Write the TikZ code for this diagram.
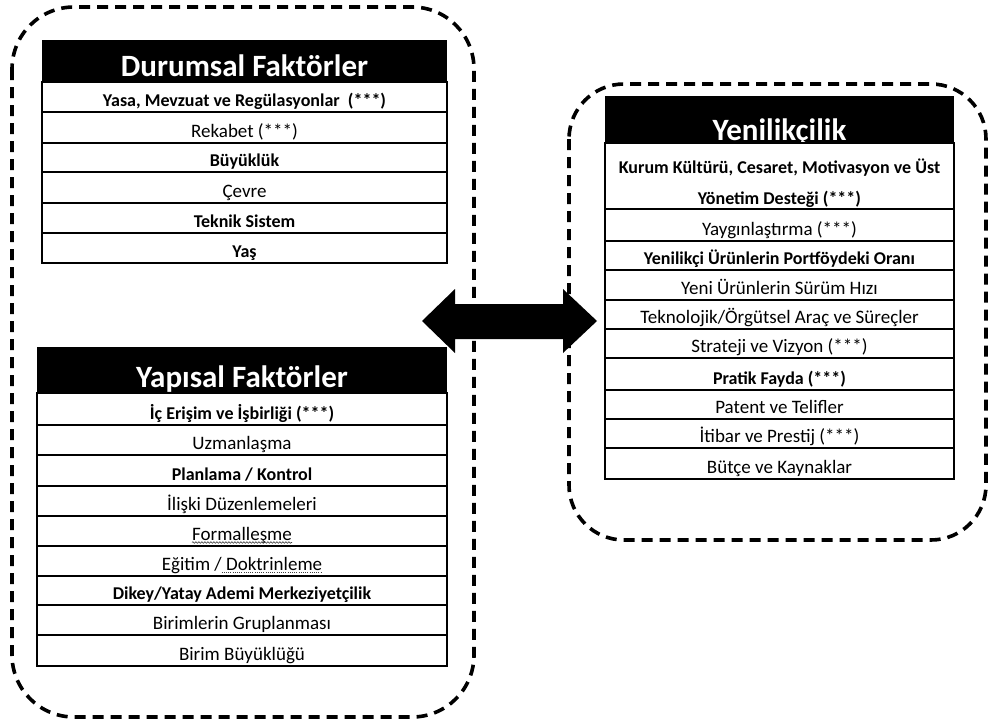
\documentclass[tikz,border=0pt]{standalone}
\usepackage{fontspec}
\setmainfont{Carlito}
\usetikzlibrary{decorations.pathmorphing}
\begin{document}
\begin{tikzpicture}[x=1pt,y=-1pt,
  dashbox/.style={line width=3.6pt, dash pattern=on 11pt off 7pt, rounded corners=62pt},
  hdrtext/.style={text=white, font=\fontsize{31}{36}\selectfont\bfseries, anchor=base, inner sep=0pt},
  rowtext/.style={font=\fontsize{19}{22}\selectfont, anchor=base, inner sep=0pt},
  rowb/.style={rowtext, font=\fontsize{18}{22}\selectfont\bfseries},
  rowline/.style={line width=1.3pt},
  edgeline/.style={line width=2.6pt},
  squiggle/.style={line width=0.6pt, black!75, decorate, decoration={snake, amplitude=0.8pt, segment length=3pt}},
  dotmark/.style={line width=0.9pt, black!75, dash pattern=on 1pt off 1.2pt}]
\useasboundingbox (0,0) rectangle (990,723);

% dashed groups
\draw[dashbox] (12,7) rectangle (474,717);
\draw[dashbox, rounded corners=55pt] (569,84) rectangle (986,540);

% ---------- Durumsal Faktoerler ----------
\fill (42,40) rectangle (447,82);
\node[hdrtext] (dh) at (244.5,76) {Durumsal Faktörler};
\draw[rowline] (42,82) rectangle (447,263);
\foreach \yy in {112,143,172,203,233} \draw[rowline] (42,\yy) -- (447,\yy);
\draw[edgeline] (447,82) -- (447,263) -- (42,263);
\node[rowb]    (d1) at (244.5,106) {Yasa, Mevzuat ve Regülasyonlar\ \ (***)};
\node[rowtext] (d2) at (244.5,137) {Rekabet (***)};
\node[rowb]    (d3) at (244.5,166) {Büyüklük};
\node[rowtext] (d4) at (244.5,197) {Çevre};
\node[rowb]    (d5) at (244.5,227) {Teknik Sistem};
\node[rowb]    (d6) at (244.5,257) {Yaş};

% ---------- Yapisal Faktoerler ----------
\fill (37,347) rectangle (447,393);
\node[hdrtext] (yh) at (242,387) {Yapısal Faktörler};
\draw[rowline] (37,393) rectangle (447,666);
\foreach \yy in {425,455,486,516,546,576,605,635} \draw[rowline] (37,\yy) -- (447,\yy);
\draw[edgeline] (447,393) -- (447,666) -- (37,666);
\node[rowb]    (y1) at (242,419) {İç Erişim ve İşbirliği (***)};
\node[rowtext] (y2) at (242,449) {Uzmanlaşma};
\node[rowb]    (y3) at (242,480) {Planlama / Kontrol};
\node[rowtext] (y4) at (242,510) {İlişki Düzenlemeleri};
\node[rowtext] (y5) at (242,540) {Formalleşme};
\node[rowtext] (y6) at (242,570) {Eğitim / Doktrinleme\ };
\node[rowtext, anchor=base east] (dk) at (y6.base east) {\phantom{Doktrinleme\ }};
\node[rowb]    (y7) at (242,599) {Dikey/Yatay Ademi Merkeziyetçilik};
\node[rowtext] (y8) at (242,629) {Birimlerin Gruplanması};
\node[rowtext] (y9) at (242,660) {Birim Büyüklüğü};
\draw[squiggle] ([yshift=-2.5pt]y5.base west) -- ([yshift=-2.5pt]y5.base east);
\draw[dotmark] ([yshift=-2.5pt]dk.base west) -- ([yshift=-2.5pt]dk.base east);

% ---------- Yenilikcilik ----------
\fill (605,96) rectangle (954,143);
\node[hdrtext] (nh) at (779.5,140) {Yenilikçilik};
\draw[rowline] (605,143) rectangle (954,479);
\foreach \yy in {209,241,270,300,329,358,390,419,448} \draw[rowline] (605,\yy) -- (954,\yy);
\draw[edgeline] (954,143) -- (954,479) -- (605,479);
\node[rowb]    (n1) at (779.5,173) {Kurum Kültürü, Cesaret, Motivasyon ve Üst};
\node[rowb]    (n1b) at (779.5,204) {Yönetim Desteği (***)};
\node[rowtext] (n2) at (779.5,235) {Yaygınlaştırma (***)};
\node[rowb]    (n3) at (779.5,264) {Yenilikçi Ürünlerin Portföydeki Oranı};
\node[rowtext] (n4) at (779.5,294) {Yeni Ürünlerin Sürüm Hızı};
\node[rowtext] (n5) at (779.5,323) {Teknolojik/Örgütsel Araç ve Süreçler};
\node[rowtext] (n6) at (779.5,352) {Strateji ve Vizyon (***)};
\node[rowb]    (n7) at (779.5,384) {Pratik Fayda (***)};
\node[rowtext] (n8) at (779.5,413) {Patent ve Telifler};
\node[rowtext] (n9) at (779.5,442) {İtibar ve Prestij (***)};
\node[rowtext] (n10) at (779.5,473) {Bütçe ve Kaynaklar};

% ---------- double arrow ----------
\coordinate (al) at (422,321);
\coordinate (ar) at (597,321);
\fill (al) -- (455,289) -- (455,304) -- (563,304) -- (563,289) -- (ar)
  -- (563,353) -- (563,339) -- (455,339) -- (455,353) -- cycle;
\end{tikzpicture}
\end{document}
